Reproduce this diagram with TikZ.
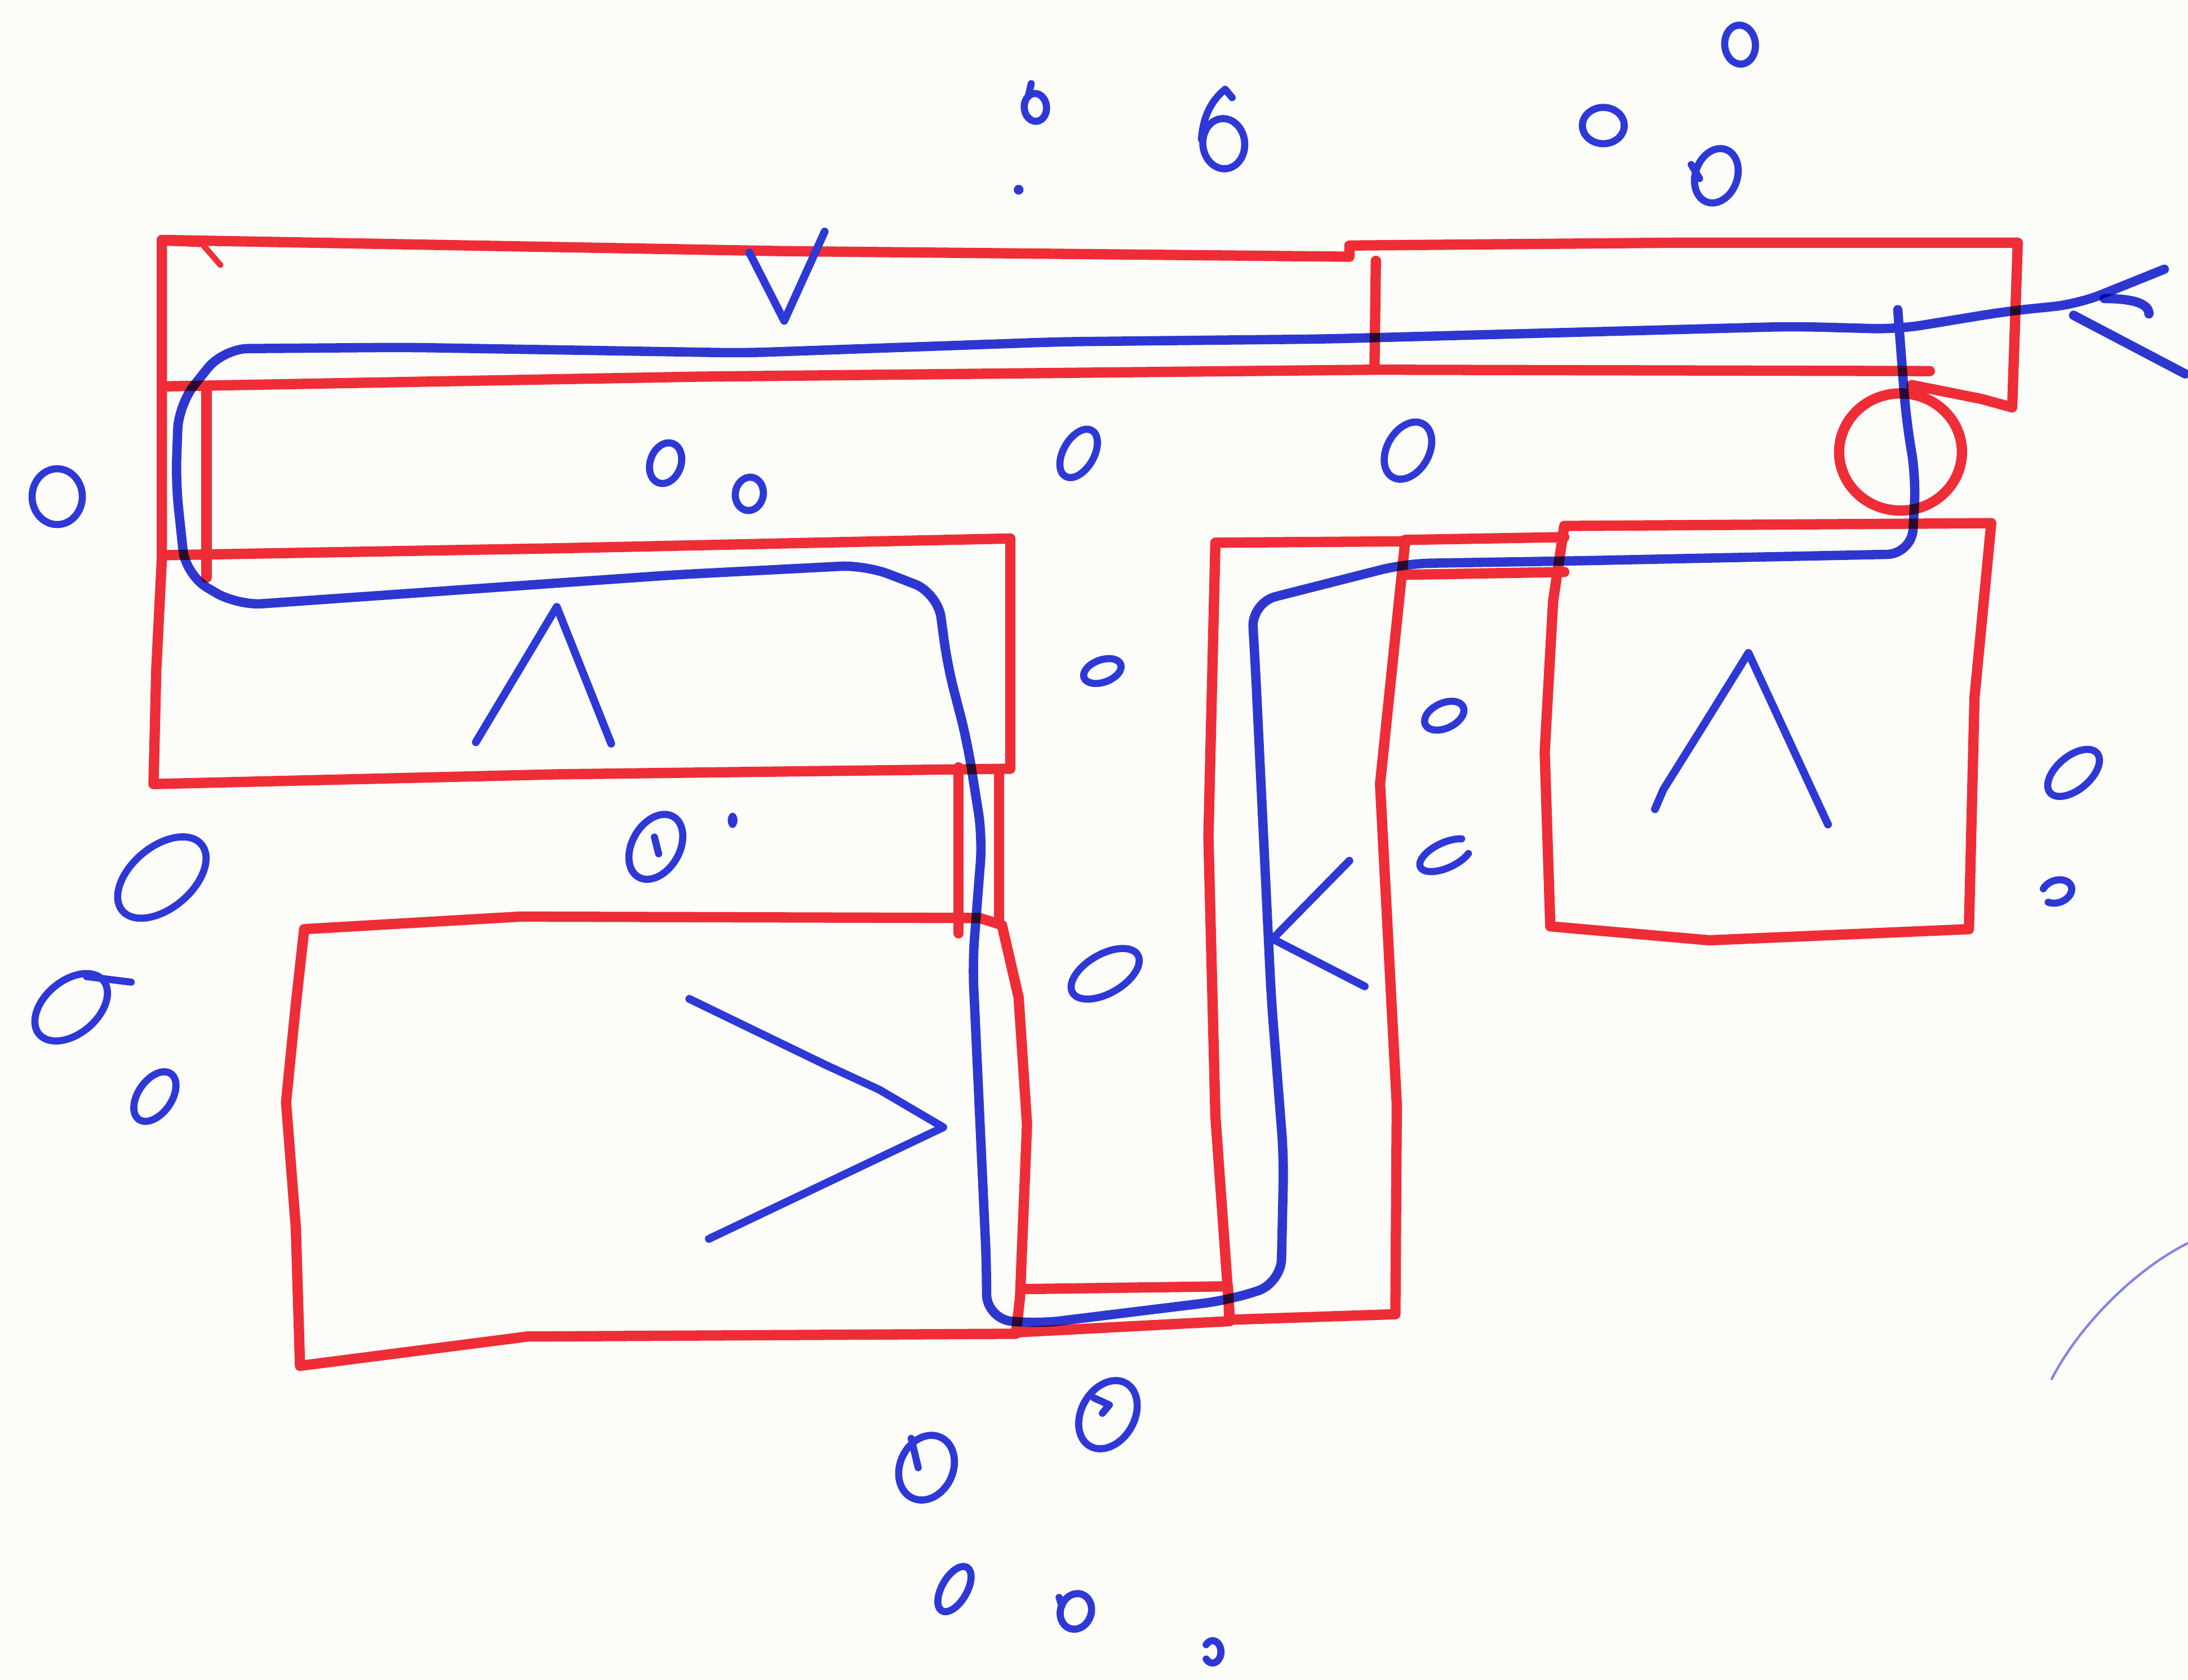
\documentclass[tikz,border=0pt]{standalone}
\usepackage{tikz}
\definecolor{penred}{RGB}{238,45,55}
\definecolor{penblue}{RGB}{46,56,214}
\definecolor{paper}{RGB}{252,252,249}

\begin{document}
\begin{tikzpicture}[
x=0.01cm,y=-0.01cm,
wall/.style={draw=penred,line width=2.1pt,line join=round,line cap=round},
route/.style={draw=penblue,line width=1.9pt,line join=round,line cap=round,rounded corners=5pt,blend mode=multiply},
chev/.style={draw=penblue,line width=1.6pt,line join=round,line cap=round},
bub/.style={draw=penblue,line width=1.45pt,line cap=round,line join=round}
]
\fill[paper] (0,0) rectangle (1568,1204);
\useasboundingbox (0,0) rectangle (1568,1204);

% top corridor
\draw[wall] (116,172) -- (560,180) -- (967,184) -- (967,176) -- (1200,174) -- (1446,174) -- (1442,292) -- (1420,286) -- (1370,276);
\draw[wall] (116,277) -- (500,270) -- (985,265) -- (1383,266);
\draw[wall] (986,187) -- (985,265);
\draw[wall,line width=1.2pt] (118,174) -- (145,175) -- (158,190);

% left room and its passage
\draw[wall] (116,172) -- (116,400) -- (112,480) -- (110,562) -- (400,555) -- (724,551) -- (724,386) -- (400,393) -- (116,398);
\draw[wall] (148,278) -- (148,414);

% short passage down
\draw[wall] (687,550) -- (687,669);
\draw[wall] (716,554) -- (716,661);

% bottom left room
\draw[wall] (218,666) -- (373,657) -- (702,658) -- (718,663) -- (730,715) -- (736,806) -- (731,930) -- (728,956) -- (378,958) -- (215,979) -- (212,880) -- (205,790) -- (212,720) -- cycle;

% bottom passage
\draw[wall] (733,924) -- (880,922) -- (881,947);
\draw[wall] (728,955) -- (881,947);

% tall room
\draw[wall] (871,389) -- (866,600) -- (871,800) -- (881,940) -- (881,946) -- (1000,942) -- (1001,792) -- (989,562) -- (1007,388) -- cycle;

% passage to right room
\draw[wall] (1007,387) -- (1121,385);
\draw[wall] (1006,412) -- (1121,410);

% right room
\draw[wall] (1121,377) -- (1427,375) -- (1415,500) -- (1411,666) -- (1225,674) -- (1111,664) -- (1107,539) -- (1113,431) -- cycle;

% ring
\draw[wall] (1362,324) ellipse [x radius=44, y radius=42];

% route
\draw[route] (1551,193) -- (1489,218) -- (1439,223) -- (1360,236) -- (1285,234) -- (949,243) -- (759,245) -- (533,253) -- (290,249) -- (160,250) -- (128,290) -- (126,346) -- (133,412) -- (170,434) -- (484,412) -- (620,405) -- (672,425) -- (679,477) -- (693,531) -- (704,600) -- (697,690) -- (707,907) -- (707,945) -- (742,949) -- (880,932) -- (918,920) -- (920,830) -- (911,715) -- (900,485) -- (897,432) -- (1007,404) -- (1130,402) -- (1370,397) -- (1373,343) -- (1366,300) -- (1360,222);
\draw[route] (1486,226) -- (1566,268);
\draw[route] (1508,214) .. controls (1530,214) and (1540,218) .. (1540,225);

% direction marks
\draw[chev] (537,181) -- (562,230) -- (591,166);
\draw[chev] (341,532) -- (399,435) -- (438,533);
\draw[chev] (494,716) -- (591,763) -- (630,781) -- (676,808) -- (508,888);
\draw[chev] (967,617) -- (912,673) -- (978,707);
\draw[chev] (1186,580) -- (1192,566) -- (1222,518) -- (1253,468) -- (1310,591);

% bubbles
\foreach \cx/\cy/\ra/\rb/\ang in {1247/32/14/11/95, 742/77/10/8/95, 877/103/18/15/95, 1149/90/15/13/0,
  1230/126/20/15/70, 41/356/20/18/90, 477/332/15/11/70, 537/354/12/10/80, 773/325/19/11/60,
  1009/323/22/15/60, 790/481/14/8/20, 1035/513/15/9/25, 1486/554/22/12/40, 116/629/37/22/40,
  51/722/30/19/40, 111/786/20/12/55, 470/607/25/17/60, 792/698/27/14/30, 794/1014/26/19/60,
  664/1052/24/19/65, 684/1139/18/9/60, 771/1155/13/11/70}
  \draw[bub,shift={(\cx,\cy)},rotate=\ang] (0,0) ellipse [x radius=\ra, y radius=\rb];
\draw[bub,shift={(1036,613)},rotate=25] (40:20 and 9) arc[start angle=40,end angle=320,x radius=20,y radius=9];
\draw[bub,shift={(1474,639)},rotate=20] (220:11 and 8) arc[start angle=220,end angle=500,x radius=11,y radius=8];
\draw[bub,shift={(869,1184)}] (220:6 and 8) arc[start angle=220,end angle=500,x radius=6,y radius=8];
\fill[penblue] (730,136) circle [radius=3.5];
\fill[penblue] (525,588) ellipse [x radius=3.5, y radius=5.5];

% tails and curls
\draw[bub] (883,70) -- (878,64) .. controls (868,72) and (862,84) .. (861,100);
\draw[bub] (737,69) -- (739,60);
\draw[bub] (62,700) -- (94,704);
\draw[bub] (653,1031) -- (658,1052);
\draw[bub] (784,1002) -- (795,1007) -- (790,1013);
\draw[bub] (759,1145) -- (761,1151);
\draw[bub] (469,600) -- (472,612);
\draw[bub] (1212,118) -- (1218,128);

% faint stroke at the edge
\draw[penblue,line width=0.5pt,opacity=0.6] (1470,989) .. controls (1490,950) and (1530,910) .. (1568,891);
\end{tikzpicture}
\end{document}
